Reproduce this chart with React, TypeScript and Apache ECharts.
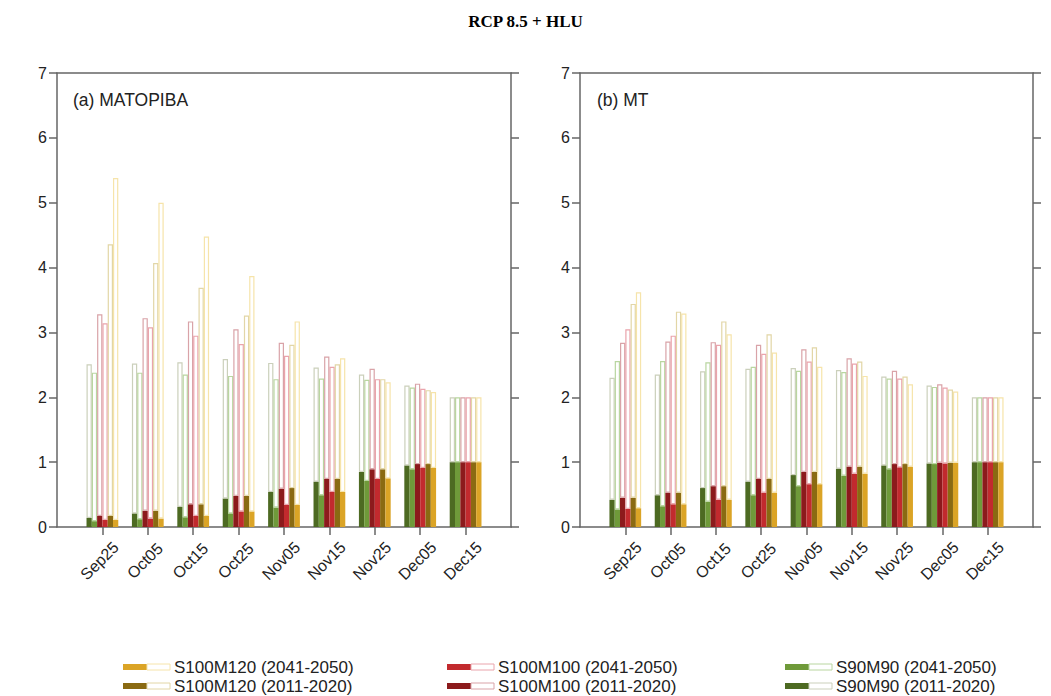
import React, { useEffect, useRef } from "react";
import * as echarts from "echarts";

const categories = ["Sep25", "Oct05", "Oct15", "Oct25", "Nov05", "Nov15", "Nov25", "Dec05", "Dec15"];
const yTicks = [0, 1, 2, 3, 4, 5, 6, 7];

const scenarioNames = [
  "S90M90 (2011-2020)",
  "S90M90 (2041-2050)",
  "S100M100 (2011-2020)",
  "S100M100 (2041-2050)",
  "S100M120 (2011-2020)",
  "S100M120 (2041-2050)",
];
const fillColors = ["#4d6a22", "#6f9a3a", "#8c1a1c", "#c22a2e", "#8a6a12", "#dba426"];
const edgeColors = ["#cbd0bb", "#b9d6a0", "#d9a3a8", "#eaa4ac", "#e2d6a6", "#f6e4aa"];

// Panel (a) MATOPIBA — filled (lower) values
const aFillS90_11 = [0.14, 0.21, 0.31, 0.44, 0.54, 0.70, 0.85, 0.95, 1.0];
const aFillS90_41 = [0.09, 0.12, 0.15, 0.21, 0.30, 0.49, 0.71, 0.89, 1.0];
const aFillS100_11 = [0.17, 0.25, 0.35, 0.48, 0.59, 0.74, 0.89, 0.97, 1.0];
const aFillS100_41 = [0.11, 0.13, 0.17, 0.24, 0.34, 0.54, 0.74, 0.91, 1.0];
const aFillS120_11 = [0.17, 0.25, 0.35, 0.48, 0.60, 0.74, 0.89, 0.97, 1.0];
const aFillS120_41 = [0.11, 0.13, 0.17, 0.24, 0.34, 0.54, 0.75, 0.91, 1.0];
// Panel (a) — total (hollow top) values
const aTotS90_11 = [2.51, 2.52, 2.54, 2.59, 2.53, 2.46, 2.35, 2.18, 2.0];
const aTotS90_41 = [2.38, 2.38, 2.35, 2.33, 2.28, 2.29, 2.27, 2.15, 2.0];
const aTotS100_11 = [3.28, 3.22, 3.17, 3.05, 2.84, 2.63, 2.44, 2.21, 2.0];
const aTotS100_41 = [3.14, 3.08, 2.95, 2.82, 2.64, 2.47, 2.28, 2.13, 2.0];
const aTotS120_11 = [4.36, 4.07, 3.69, 3.26, 2.81, 2.51, 2.28, 2.11, 2.0];
const aTotS120_41 = [5.38, 5.0, 4.48, 3.87, 3.17, 2.60, 2.23, 2.08, 2.0];

// Panel (b) MT — filled values
const bFillS90_11 = [0.42, 0.49, 0.60, 0.70, 0.80, 0.90, 0.95, 0.98, 1.0];
const bFillS90_41 = [0.27, 0.32, 0.39, 0.49, 0.63, 0.79, 0.89, 0.97, 1.0];
const bFillS100_11 = [0.45, 0.53, 0.63, 0.74, 0.85, 0.93, 0.97, 0.99, 1.0];
const bFillS100_41 = [0.28, 0.35, 0.42, 0.53, 0.66, 0.82, 0.92, 0.98, 1.0];
const bFillS120_11 = [0.45, 0.53, 0.63, 0.74, 0.85, 0.93, 0.97, 0.99, 1.0];
const bFillS120_41 = [0.29, 0.35, 0.42, 0.53, 0.66, 0.82, 0.93, 0.99, 1.0];
// Panel (b) — totals
const bTotS90_11 = [2.30, 2.35, 2.40, 2.44, 2.45, 2.42, 2.32, 2.18, 2.0];
const bTotS90_41 = [2.56, 2.56, 2.54, 2.47, 2.41, 2.39, 2.29, 2.16, 2.0];
const bTotS100_11 = [2.84, 2.86, 2.85, 2.81, 2.74, 2.60, 2.41, 2.20, 2.0];
const bTotS100_41 = [3.05, 2.95, 2.81, 2.67, 2.55, 2.52, 2.29, 2.15, 2.0];
const bTotS120_11 = [3.44, 3.32, 3.17, 2.97, 2.77, 2.55, 2.32, 2.12, 2.0];
const bTotS120_41 = [3.62, 3.29, 2.97, 2.69, 2.47, 2.33, 2.20, 2.09, 2.0];

const panelA = {
  fills: [aFillS90_11, aFillS90_41, aFillS100_11, aFillS100_41, aFillS120_11, aFillS120_41],
  totals: [aTotS90_11, aTotS90_41, aTotS100_11, aTotS100_41, aTotS120_11, aTotS120_41],
};
const panelB = {
  fills: [bFillS90_11, bFillS90_41, bFillS100_11, bFillS100_41, bFillS120_11, bFillS120_41],
  totals: [bTotS90_11, bTotS90_41, bTotS100_11, bTotS100_41, bTotS120_11, bTotS120_41],
};

const FONT = "Liberation Sans, Arial, Helvetica, sans-serif";
const AXIS_COLOR = "#666";

export default function App() {
  const ref = useRef<HTMLDivElement>(null);

  useEffect(() => {
    if (!ref.current) return;
    const chart = echarts.init(ref.current, undefined, { renderer: "svg" });

    const xData = ["", ...categories, ""];
    const grids = [
      { left: 57, right: 540, top: 73, bottom: 169 },
      { left: 580, right: 18, top: 73, bottom: 169 },
    ];

    const xAxes: any[] = [];
    const yAxes: any[] = [];
    grids.forEach((_, gi) => {
      xAxes.push({
        type: "category",
        gridIndex: gi,
        data: xData,
        boundaryGap: false,
        axisLine: { show: true, onZero: false, lineStyle: { color: AXIS_COLOR, width: 1.5 } },
        axisTick: {
          show: true,
          inside: false,
          length: 8,
          interval: (i: number) => i > 0 && i < xData.length - 1,
          lineStyle: { color: AXIS_COLOR, width: 1.5 },
        },
        axisLabel: {
          interval: 0,
          rotate: 45,
          margin: 31,
          align: "center",
          verticalAlign: "middle",
          padding: [0, 8, 0, 0],
          fontSize: 16,
          fontFamily: FONT,
          color: "#222",
        },
        splitLine: { show: false },
      });
      xAxes.push({
        type: "category",
        gridIndex: gi,
        position: "top",
        data: xData,
        boundaryGap: false,
        axisLine: { show: true, onZero: false, lineStyle: { color: AXIS_COLOR, width: 1.5 } },
        axisTick: { show: false },
        axisLabel: { show: false },
        splitLine: { show: false },
      });
      yAxes.push({
        type: "value",
        gridIndex: gi,
        min: 0,
        max: 7,
        interval: 1,
        axisLine: { show: true, onZero: false, lineStyle: { color: AXIS_COLOR, width: 1.5 } },
        axisTick: { show: true, inside: false, length: 8, lineStyle: { color: AXIS_COLOR, width: 1.5 } },
        axisLabel: {
          margin: 10,
          fontSize: 16,
          fontFamily: FONT,
          color: "#222",
          formatter: (v: number) => (yTicks.includes(v) ? String(v) : ""),
        },
        splitLine: { show: false },
      });
      yAxes.push({
        type: "value",
        gridIndex: gi,
        position: "right",
        min: 0,
        max: 7,
        interval: 1,
        axisLine: { show: true, onZero: false, lineStyle: { color: AXIS_COLOR, width: 1.5 } },
        axisTick: { show: true, inside: false, length: 8, lineStyle: { color: AXIS_COLOR, width: 1.5 } },
        axisLabel: { show: false },
        splitLine: { show: false },
      });
    });

    const series: any[] = [];
    [panelA, panelB].forEach((panel, pi) => {
      const xIndex = pi * 2;
      const yIndex = pi * 2;
      for (let k = 0; k < 6; k++) {
        const fill = panel.fills[k];
        const tot = panel.totals[k];
        const stack = `p${pi}s${k}`;
        series.push({
          type: "bar",
          name: scenarioNames[k],
          xAxisIndex: xIndex,
          yAxisIndex: yIndex,
          stack,
          barGap: "0%",
          barCategoryGap: "30%",
          itemStyle: { color: fillColors[k] },
          data: [null, ...fill, null],
        });
        series.push({
          type: "bar",
          name: scenarioNames[k] + " total",
          xAxisIndex: xIndex,
          yAxisIndex: yIndex,
          stack,
          barGap: "0%",
          barCategoryGap: "30%",
          itemStyle: { color: "rgba(255,255,255,0)", borderColor: edgeColors[k], borderWidth: 1.2 },
          data: [null, ...tot.map((t, i) => +(t - fill[i]).toFixed(3)), null],
        });
      }
    });

    // legend (custom, three columns of two rows)
    const legendCols = [
      { x: 123, items: [5, 4] },
      { x: 447, items: [3, 2] },
      { x: 785, items: [1, 0] },
    ];
    const rowsY = [667, 686];
    const legendEls: any[] = [];
    legendCols.forEach((col) => {
      col.items.forEach((k, r) => {
        const y = rowsY[r];
        legendEls.push({
          type: "rect",
          shape: { x: col.x, y: y - 3, width: 24, height: 6 },
          style: { fill: fillColors[k] },
        });
        legendEls.push({
          type: "rect",
          shape: { x: col.x + 24, y: y - 3, width: 23, height: 6 },
          style: { fill: "#fff", stroke: edgeColors[k], lineWidth: 1 },
        });
        legendEls.push({
          type: "text",
          x: col.x + 51,
          y,
          style: {
            text: scenarioNames[k],
            fontSize: 17,
            fontFamily: FONT,
            fill: "#222",
            verticalAlign: "middle",
            align: "left",
          },
        });
      });
    });

    chart.setOption({
      animation: false,
      backgroundColor: "#fff",
      title: {
        text: "RCP 8.5 + HLU",
        left: "center",
        top: 8,
        textStyle: { fontFamily: "Liberation Serif, Times New Roman, serif", fontWeight: "bold", fontSize: 17, color: "#000" },
      },
      grid: grids.map((g) => ({ ...g, containLabel: false })),
      xAxis: xAxes,
      yAxis: yAxes,
      series,
      graphic: [
        {
          type: "text",
          x: 73,
          y: 100,
          style: { text: "(a) MATOPIBA", fontSize: 17.5, fontFamily: FONT, fill: "#222", verticalAlign: "middle" },
        },
        {
          type: "text",
          x: 597,
          y: 100,
          style: { text: "(b) MT", fontSize: 17.5, fontFamily: FONT, fill: "#222", verticalAlign: "middle" },
        },
        ...legendEls,
      ],
    });

    return () => chart.dispose();
  }, []);

  return (
    <div
      ref={ref}
      style={{ position: "fixed", left: 0, top: 0, width: 1051, height: 696, background: "#fff" }}
    />
  );
}
